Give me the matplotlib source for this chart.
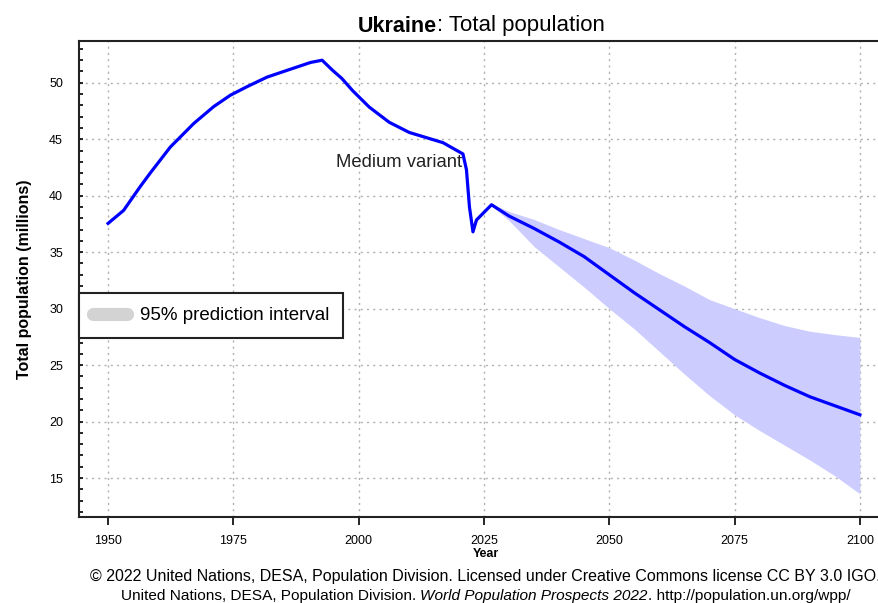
import matplotlib
matplotlib.use("Agg")
import matplotlib.pyplot as plt
from matplotlib.lines import Line2D
from matplotlib.ticker import MultipleLocator

plt.rcParams["font.family"] = ["Liberation Sans", "DejaVu Sans"]

# medium variant (millions)
years = [1950, 1953.1, 1956.4, 1958.4, 1962.4, 1967.1, 1971.1, 1974.4, 1977.7,
         1981.7, 1985.7, 1990.4, 1992.7, 1994.8, 1996.6, 1998.8, 2002.1, 2006.1,
         2010.1, 2016.8, 2020.8, 2021.5, 2022.1, 2022.8, 2023.5, 2026.5, 2030,
         2035, 2040, 2045, 2050, 2055, 2060, 2065, 2070, 2075, 2080, 2085, 2090,
         2095, 2100]
medium = [37.55, 38.7, 40.8, 42.0, 44.3, 46.4, 47.9, 48.9, 49.65,
          50.5, 51.1, 51.8, 52.0, 51.1, 50.4, 49.3, 47.85, 46.5,
          45.6, 44.7, 43.7, 42.3, 39.0, 36.8, 37.85, 39.2, 38.2,
          37.1, 35.9, 34.6, 33.0, 31.4, 29.9, 28.4, 27.0, 25.5, 24.3, 23.2, 22.2,
          21.4, 20.6]

# 95% prediction interval
pi_years = [2026.5, 2030, 2035, 2040, 2045, 2050, 2055, 2060, 2065, 2070,
            2075, 2080, 2085, 2090, 2095, 2100]
pi_upper = [39.3, 38.6, 37.9, 37.0, 36.2, 35.4, 34.3, 33.1, 32.0, 30.8,
            30.0, 29.2, 28.5, 28.0, 27.7, 27.45]
pi_lower = [39.1, 37.8, 35.5, 33.7, 31.9, 30.0, 28.2, 26.2, 24.2, 22.3,
            20.6, 19.2, 17.9, 16.6, 15.2, 13.6]

xticks = [1950, 1975, 2000, 2025, 2050, 2075, 2100]
yticks = [15, 20, 25, 30, 35, 40, 45, 50]

W, H = 879, 603
fig = plt.figure(figsize=(W / 100, H / 100), dpi=100)
ax = fig.add_axes([79 / W, 1 - 517 / H, (892 - 79) / W, (517 - 41) / H])

ax.fill_between(pi_years, pi_lower, pi_upper, color="#ccccff", lw=0, zorder=2)
ax.plot(years, medium, color="#0000ff", lw=2.3, zorder=3)

ax.set_xlim(1944.2, 2106.4)
ax.set_ylim(11.55, 53.7)
ax.set_xticks(xticks)
ax.set_yticks(yticks)
ax.yaxis.set_minor_locator(MultipleLocator(1))
ax.tick_params(axis="x", direction="out", length=6, width=1.2, labelsize=9, pad=7)
ax.tick_params(axis="y", which="both", direction="in", length=3, width=1.2,
               labelsize=9, pad=11.5)
ax.grid(True, color="#b0b0b0", linestyle=(0, (1.5, 3)), lw=1.0, zorder=1)
for s in ax.spines.values():
    s.set_linewidth(1.5)
    s.set_color("#222222")
ax.spines["right"].set_visible(False)  # the frame runs off the right edge

ax.set_xlabel("Year", fontweight="bold", fontsize=9, labelpad=1)
ax.set_ylabel("Total population (millions)", fontweight="bold", fontsize=11.5,
              labelpad=12)

ax.text(2020.6, 42.9, "Medium variant", fontsize=13.3, ha="right", va="center",
        color="#222222", zorder=4)

handle = Line2D([0], [0], color="#d3d3d3", lw=9.5, solid_capstyle="round")
leg = ax.legend([handle], ["95% prediction interval"], loc="upper left",
                bbox_to_anchor=(0, 0.4706), fontsize=13.5, frameon=True,
                fancybox=False, edgecolor="#222222", framealpha=1,
                handlelength=1.8, handletextpad=0.7, borderpad=0.75,
                borderaxespad=0)
leg.get_frame().set_linewidth(1.5)

fig.text(437 / W, 1 - 26 / H, "Ukraine", fontsize=15.5, fontweight="bold",
         ha="right", va="center")
fig.text(437 / W, 1 - 26 / H, ": Total population", fontsize=16,
         ha="left", va="center")

fig.text(90 / W, 1 - 577 / H,
         "\u00a9 2022 United Nations, DESA, Population Division. Licensed under "
         "Creative Commons license CC BY 3.0 IGO.", fontsize=11.5, va="center")
t1 = fig.text(121 / W, 1 - 600 / H, "United Nations, DESA, Population Division. ",
              fontsize=11.1, va="baseline")
t2 = ax.annotate("World Population Prospects 2022", xy=(1, 0), xycoords=t1,
                 fontsize=11.1, style="italic", va="bottom", annotation_clip=False)
ax.annotate(". http://population.un.org/wpp/", xy=(1, 0), xycoords=t2,
            fontsize=11.1, va="bottom", annotation_clip=False)

fig.savefig("out.png", dpi=100)
